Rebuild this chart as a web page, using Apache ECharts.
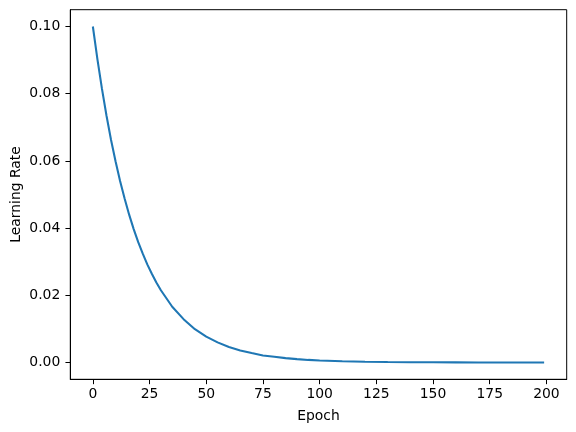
<!DOCTYPE html>
<html>
<head>
<meta charset="utf-8">
<script src="https://cdn.jsdelivr.net/npm/echarts@6/dist/echarts.min.js"></script>
<style>
html,body{margin:0;padding:0;background:#fff;}
#c{width:576px;height:432px;}
</style>
</head>
<body>
<div id="c"></div>
<script>
// Epochs and learning rate values
var epochs = [0,2,4,6,8,10,12,14,16,18,20,22,24,26,28,30,35,40,45,50,55,60,65,70,75,80,85,90,95,100,110,120,130,140,150,160,170,180,190,199];
var learningRate = [0.1,0.0903,0.0815,0.0735,0.0663,0.0599,0.0540,0.0488,0.0440,0.0397,0.0358,0.0324,0.0292,0.0264,0.0238,0.0215,0.0166,0.0129,0.0099,0.0077,0.0060,0.0046,0.0036,0.0028,0.0021,0.0017,0.0013,0.0010,0.00077,0.00059,0.00036,0.00021,0.00013,0.00008,0.00005,0.00003,0.00002,0.00001,0.000006,0.000004];
var xTicks = [0,25,50,75,100,125,150,175,200];
var yTicks = [0,0.02,0.04,0.06,0.08,0.10];
var xLabel = 'Epoch';
var yLabel = 'Learning Rate';

var data = epochs.map(function(e,i){return [e, learningRate[i]];});
var font = 'DejaVu Sans';
var fs = 13.9;
var chart = echarts.init(document.getElementById('c'), null, {renderer:'canvas'});
chart.setOption({
  animation:false,
  backgroundColor:'#fff',
  grid:{left:70.3, right:9.3, top:9.7, bottom:52.7, containLabel:false, outerBoundsMode:'none', show:false},
  xAxis:{
    type:'value', min:-9.95, max:208.95,
    name:xLabel, nameLocation:'middle', nameGap:30, nameMoveOverlap:false,
    nameTextStyle:{fontFamily:font, fontSize:fs, color:'#000'},
    axisLine:{show:true, onZero:false, lineStyle:{color:'#000', width:1}},
    axisTick:{show:true, length:4.86, lineStyle:{color:'#000', width:1},
      customValues:xTicks},
    axisLabel:{show:true, margin:8, fontFamily:font, fontSize:fs, color:'#000',
      customValues:xTicks, formatter:function(v){return String(v);}},
    splitLine:{show:false}
  },
  yAxis:{
    type:'value', min:-0.005, max:0.105,
    name:yLabel, nameLocation:'middle', nameGap:47, nameMoveOverlap:false,
    nameTextStyle:{fontFamily:font, fontSize:fs, color:'#000'},
    axisLine:{show:true, onZero:false, lineStyle:{color:'#000', width:1}},
    axisTick:{show:true, length:4.86, lineStyle:{color:'#000', width:1},
      customValues:yTicks},
    axisLabel:{show:true, margin:10, fontFamily:font, fontSize:fs, color:'#000',
      customValues:yTicks, formatter:function(v){return v.toFixed(2);}},
    splitLine:{show:false}
  },
  series:[{
    type:'line', data:data, showSymbol:false, smooth:false,
    lineStyle:{color:'#1f77b4', width:2.08},
    itemStyle:{color:'#1f77b4'}
  }]
});
chart.setOption({graphic:[{
  type:'rect', shape:{x:70.3, y:9.7, width:576-9.3-70.3, height:432-52.7-9.7},
  style:{fill:null, stroke:'#000', lineWidth:1}, silent:true, z:-1
}]});
</script>
</body>
</html>
